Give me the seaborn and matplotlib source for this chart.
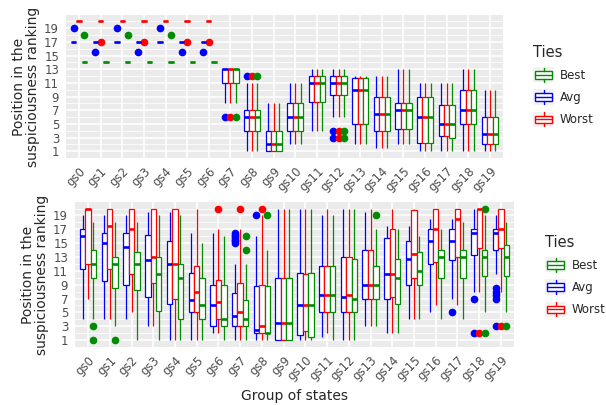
import pandas as pd
import matplotlib
matplotlib.use("Agg")
import matplotlib.pyplot as plt
import seaborn as sns
from matplotlib.legend_handler import HandlerBase
from matplotlib.patches import Patch, Rectangle
from matplotlib.lines import Line2D

groups = [f"gs{i}" for i in range(20)]
ties_draw = ["Avg", "Worst", "Best"]      # left to right inside a group
ties_legend = ["Best", "Avg", "Worst"]
colors = {"Best": "#008B00", "Avg": "#0000FF", "Worst": "#FF0000"}

# box statistics:
# (lower whisker, q1, median, q3, upper whisker) for gs0 .. gs19
top_avg = [
    (17, 17, 17, 17, 17), (17, 17, 17, 17, 17), (17, 17, 17, 17, 17),
    (17, 17, 17, 17, 17), (17, 17, 17, 17, 17), (17, 17, 17, 17, 17),
    (17, 17, 17, 17, 17), (8, 11, 13, 13, 13), (1, 4, 6, 7, 11),
    (1, 1, 2, 4, 8), (2, 4, 6, 8, 11), (4, 8.25, 11, 12, 13),
    (6, 9.25, 11, 12, 13), (2, 5, 10, 11.75, 12), (1.5, 4, 6.5, 9, 12),
    (2, 4.25, 7, 8, 13), (1, 2.25, 6, 9, 11), (1, 3.25, 5, 7.75, 11),
    (1, 5, 7, 10, 13), (1, 2, 3.5, 6, 10),
]
top_worst = [
    (20, 20, 20, 20, 20), (20, 20, 20, 20, 20), (20, 20, 20, 20, 20),
    (20, 20, 20, 20, 20), (20, 20, 20, 20, 20), (20, 20, 20, 20, 20),
    (20, 20, 20, 20, 20), (8, 11, 13, 13, 13), (1, 4, 6, 7, 11),
    (1, 1, 2, 4, 8), (2, 4, 6, 8, 11), (4, 8.25, 11, 12, 13),
    (6, 9.25, 11, 12, 13), (2, 5, 10, 11.75, 12), (1.5, 4, 6.5, 9, 12),
    (2, 4.25, 7, 8, 13), (1, 2.25, 6, 9, 11), (1, 3.25, 5, 7.75, 11),
    (1, 5, 7, 10, 13), (1, 2, 3.5, 6, 10),
]
top_best = [
    (14, 14, 14, 14, 14), (14, 14, 14, 14, 14), (14, 14, 14, 14, 14),
    (14, 14, 14, 14, 14), (14, 14, 14, 14, 14), (14, 14, 14, 14, 14),
    (14, 14, 14, 14, 14), (8, 11, 13, 13, 13), (1, 4, 6, 7, 11),
    (1, 1, 2, 4, 8), (2, 4, 6, 8, 11), (4, 8.25, 11, 12, 13),
    (6, 9.25, 11, 12, 13), (2, 5, 10, 11.75, 12), (1.5, 4, 6.5, 9, 12),
    (2, 4.25, 7, 8, 13), (1, 2.25, 6, 9, 11), (1, 3, 5, 7.75, 11),
    (1, 5, 7, 10, 13), (1, 2, 3.5, 6, 10),
]
top_avg_out = [[19], [15.5], [19], [15.5], [19], [15.5], [15.5], [6], [12], [],
               [], [], [4, 3], [], [], [], [], [], [], []]
top_worst_out = [[], [17], [], [17], [], [17], [17], [6], [12], [],
                 [], [], [4, 3], [], [], [], [], [], [], []]
top_best_out = [[18], [], [18], [], [18], [], [], [6], [12], [],
                [], [], [4, 3], [], [], [], [], [], [], []]

bottom_avg = [
    (4, 11.25, 16, 17, 19), (4, 9.5, 15, 16.5, 19), (4, 9, 14.5, 16.5, 19),
    (3, 7.25, 12.5, 16.25, 19.5), (1, 6.25, 12, 15.25, 19.5),
    (1, 5, 6.75, 10.75, 16.5), (2, 3, 6, 9, 16.5), (1, 3, 4.5, 7.75, 12),
    (1, 2, 2.5, 8.75, 16), (1, 1, 3.5, 10, 20), (1, 1.75, 6, 10.75, 20),
    (1.5, 5, 7.5, 11.75, 19), (1, 5, 7.25, 13, 20), (3, 7, 9, 14, 19.5),
    (2, 7, 10.5, 15.75, 17.5), (4, 9, 12.75, 15.25, 17.5),
    (5, 12, 15.25, 17, 18.5), (7, 12.5, 15.25, 17, 18.5),
    (8, 13.25, 16.5, 17, 20), (10.5, 14, 16.5, 17, 19),
]
bottom_worst = [
    (7, 12, 20, 20, 20), (4, 11.25, 17.5, 20, 20), (5, 10.5, 17, 20, 20),
    (3, 9.25, 13, 20, 20), (1, 7, 12, 20, 20), (1, 5, 8, 11.75, 20),
    (2, 4, 6.5, 9.75, 17), (1, 3, 5, 9.25, 17), (1, 2, 3, 9, 19),
    (1, 1, 3.5, 10, 20), (1, 2.25, 6, 10.5, 20), (2, 5, 7.5, 11.75, 20),
    (1, 5, 7.5, 13, 20), (3, 7, 9, 14, 20), (2, 7.25, 10.5, 17, 20),
    (4, 10, 13.5, 19.75, 20), (6, 12.25, 17, 20, 20), (6, 13, 18.5, 20, 20),
    (8, 14.25, 20, 20, 20), (8, 14.25, 17, 20, 20),
]
bottom_best = [
    (4, 10, 12, 14, 18), (3, 8.5, 12, 13, 18), (1, 8.25, 12, 13.75, 18),
    (1, 5.25, 10.5, 13, 19), (1, 4, 10, 12, 19), (1, 4, 6, 10, 15),
    (1, 3, 4, 9, 16), (1, 3, 4, 6.75, 12), (1, 2, 2, 8.75, 14),
    (1, 1, 3.5, 10, 20), (1, 1.5, 6, 10.75, 20), (1, 5, 7.5, 11.75, 19),
    (1, 5, 7, 12.75, 20), (3, 7, 9, 11.75, 17), (2, 6.25, 10, 12.75, 17),
    (4, 9, 11, 13.75, 16), (4, 10, 13, 14, 17), (4, 10, 13, 14, 18),
    (5, 10.25, 13, 14, 19), (5, 10.25, 13, 14.75, 18),
]
bottom_avg_out = [[], [], [], [], [], [], [],
                  [15, 15.25, 15.5, 15.75, 16, 16.25, 16.5], [19], [],
                  [], [], [], [], [], [], [], [5], [7, 2], [8.5, 8, 7.5, 7, 3]]
bottom_worst_out = [[], [], [], [], [], [], [20], [20], [20], [],
                    [], [], [], [], [], [], [], [], [2], [3]]
bottom_best_out = [[3, 1], [1], [], [], [], [], [], [14, 16], [19], [],
                   [], [], [], [19], [], [], [], [], [20, 2], [3]]


def expand(stats, outliers):
    # a sample whose quartiles and whiskers give back the box statistics
    lo, q1, med, q3, hi = stats
    return [lo] + [q1] * 30 + [med] * 30 + [q3] * 30 + [hi] + list(outliers)


def make_frame(boxes, outliers):
    rows = []
    for tie in ties_draw:
        for g, st, out in zip(groups, boxes[tie], outliers[tie]):
            for v in expand(st, out):
                rows.append((g, tie, v))
    return pd.DataFrame(rows, columns=["Group", "Ties", "Position"])


class BoxKey(HandlerBase):
    def create_artists(self, legend, handle, xd, yd, w, h, fontsize, trans):
        c = handle.get_edgecolor()
        x0, y0 = -xd, -yd
        bg = Rectangle((x0, y0), w, h, facecolor="#F2F2F2", edgecolor="none", transform=trans)
        box = Rectangle((x0 + 0.12 * w, y0 + 0.25 * h), 0.76 * w, 0.5 * h,
                        facecolor="white", edgecolor=c, lw=1.0, transform=trans)
        med = Line2D([x0 + 0.12 * w, x0 + 0.88 * w], [y0 + 0.5 * h] * 2, color=c, lw=1.0, transform=trans)
        w_lo = Line2D([x0 + 0.5 * w] * 2, [y0 + 0.05 * h, y0 + 0.25 * h], color=c, lw=1.0, transform=trans)
        w_hi = Line2D([x0 + 0.5 * w] * 2, [y0 + 0.75 * h, y0 + 0.95 * h], color=c, lw=1.0, transform=trans)
        return [bg, box, med, w_lo, w_hi]


def draw_panel(ax, df, xlabel):
    for tie in ties_draw:
        sns.boxplot(
            data=df[df["Ties"] == tie], x="Group", y="Position", hue="Ties",
            order=groups, hue_order=ties_draw,
            palette={t: "white" for t in ties_draw}, saturation=1,
            linecolor=colors[tie], linewidth=0.9, width=0.75, gap=0, dodge=True,
            showcaps=False, medianprops=dict(linewidth=1.9),
            flierprops=dict(marker="o", markerfacecolor=colors[tie],
                            markeredgecolor=colors[tie], markersize=4.5),
            legend=False, ax=ax,
        )
    ax.set_xlim(-0.6, 19.6)
    ax.set_ylim(0.05, 20.95)
    ax.set_yticks(range(1, 20, 2))
    ax.set_yticks(range(0, 21, 2), minor=True)
    ax.set_xticks(range(20))
    ax.set_xticklabels(groups, rotation=45, ha="right", va="top", rotation_mode="anchor")
    ax.set_facecolor("#EBEBEB")
    ax.set_axisbelow(True)
    ax.grid(True, which="major", color="white", lw=1.1)
    ax.grid(True, which="minor", axis="y", color="white", lw=0.55)
    for s in ax.spines.values():
        s.set_visible(False)
    ax.tick_params(which="major", length=3, width=0.6, color="#333333",
                   labelcolor="#4D4D4D", labelsize=8.5, pad=2)
    ax.tick_params(which="minor", length=0)
    ax.set_ylabel("Position in the\nsuspiciousness ranking", fontsize=10, labelpad=3,
                  linespacing=1.0)
    ax.set_xlabel(xlabel, fontsize=10, labelpad=4)


sns.set_theme(style="darkgrid")

top_df = make_frame({"Avg": top_avg, "Worst": top_worst, "Best": top_best},
                    {"Avg": top_avg_out, "Worst": top_worst_out, "Best": top_best_out})
bottom_df = make_frame({"Avg": bottom_avg, "Worst": bottom_worst, "Best": bottom_best},
                       {"Avg": bottom_avg_out, "Worst": bottom_worst_out, "Best": bottom_best_out})

W, H = 606, 405
fig = plt.figure(figsize=(W / 100, H / 100), dpi=100)
fig.patch.set_facecolor("white")
ax_top = fig.add_axes([66 / W, 1 - 158 / H, 437 / W, 143 / H])
ax_bot = fig.add_axes([75 / W, 1 - 347 / H, 439 / W, 145 / H])

draw_panel(ax_top, top_df, "")
draw_panel(ax_bot, bottom_df, "Group of states")

handles = [Patch(facecolor="white", edgecolor=colors[t]) for t in ties_legend]
for anchor in [(527 / W, 1 - 86 / H), (539 / W, 1 - 276 / H)]:
    fig.legend(handles, ties_legend, title="Ties", loc="center left", bbox_to_anchor=anchor,
               frameon=False, handler_map={Patch: BoxKey()}, fontsize=8.5, title_fontsize=10.5,
               alignment="left", handlelength=1.8, handleheight=1.6, handletextpad=0.45,
               labelspacing=0.6, borderpad=0)

fig.savefig("out.png", dpi=100)
